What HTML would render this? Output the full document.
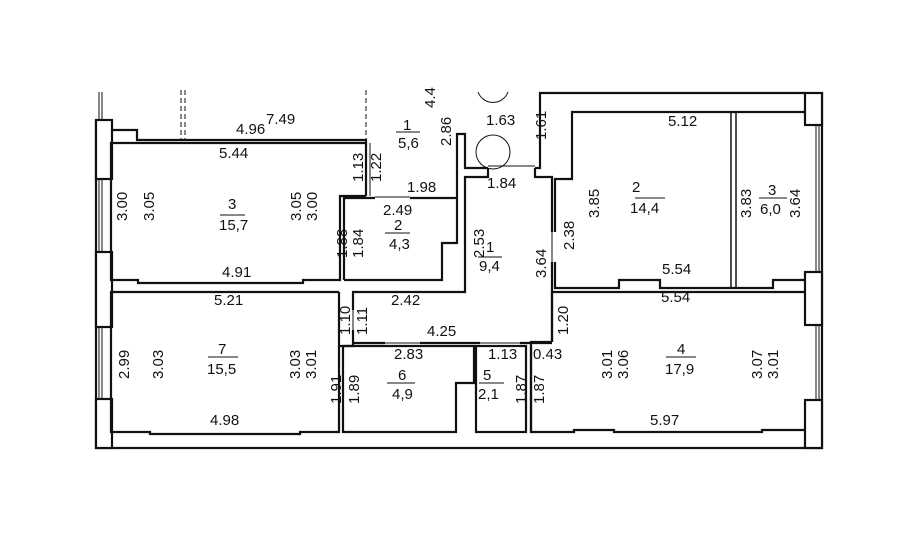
<!DOCTYPE html>
<html><head><meta charset="utf-8"><style>
html,body{margin:0;padding:0;background:#fff;width:918px;height:546px;overflow:hidden}
svg text{font-family:"Liberation Sans",sans-serif;font-size:15px;fill:#111}
</style></head><body>
<svg width="918" height="546" viewBox="0 0 918 546" xmlns="http://www.w3.org/2000/svg">
<g fill="none" stroke="#111" stroke-width="2.2">
<polyline points="96,120 96,448 822,448 822,92"/>
<line x1="99" y1="92" x2="99" y2="448" stroke-width="1"/>
<line x1="102" y1="92" x2="102" y2="448" stroke-width="1"/>
<line x1="816" y1="112" x2="816" y2="448" stroke-width="1"/>
<line x1="819" y1="112" x2="819" y2="448" stroke-width="1"/>
<rect x="96" y="120" width="16" height="59" fill="#fff"/>
<rect x="96" y="252" width="16" height="75" fill="#fff"/>
<rect x="96" y="399" width="16" height="49" fill="#fff"/>
<rect x="805" y="93" width="17" height="32" fill="#fff"/>
<rect x="805" y="272" width="17" height="53" fill="#fff"/>
<rect x="805" y="400" width="17" height="48" fill="#fff"/>
<polyline points="112,130 137,130 137,140 366,140 366,143"/>
<polyline points="366,143 111,143 111,280 138,280 138,283 303,283 303,280 340,280 340,196 366,196"/>
<line x1="366" y1="143" x2="366" y2="196"/>
<line x1="370" y1="143" x2="370" y2="196" stroke-width="1"/>
<polyline points="344,280 344,198 375,198"/>
<polyline points="410,198 457,198 457,243 442,243 442,280 344,280"/>
<line x1="375" y1="197" x2="410" y2="197" stroke-width="1"/>
<polyline points="457,198 457,134 465,134 465,168 488,168"/>
<polyline points="535,168 540,168 540,93 805,93"/>
<line x1="488" y1="166" x2="535" y2="166" stroke-width="1"/>
<polyline points="535,168 535,177 552,177 552,232"/>
<polyline points="488,168 488,177 465,177 465,292 353,292 353,310"/>
<polyline points="552,262 552,342"/>
<line x1="552" y1="232" x2="552" y2="262" stroke-width="1"/>
<polyline points="555,232 555,179 572,179 572,112 805,112"/>
<polyline points="555,262 555,288 619,288 619,280 660,280 660,288 773,288 773,280 805,280"/>
<line x1="731" y1="112" x2="731" y2="288" stroke-width="1.5"/>
<line x1="736" y1="112" x2="736" y2="288" stroke-width="1.5"/>
<polyline points="339,292 111,292 111,432 150,432 150,434 300,434 300,432 339,432 339,346"/>
<polyline points="339,292 339,346 353,346 353,330"/>
<line x1="353" y1="310" x2="353" y2="330" stroke-width="1"/>
<polyline points="353,343 385,343"/>
<polyline points="420,343 480,343"/>
<polyline points="520,343 552,343"/>
<line x1="385" y1="343" x2="420" y2="343" stroke-width="1"/>
<line x1="480" y1="343" x2="520" y2="343" stroke-width="1"/>
<polyline points="343,346 474,346 474,383 456,383 456,432 343,432 343,346"/>
<rect x="476" y="346" width="50" height="86"/>
<polyline points="552,342 552,292 805,292"/>
<polyline points="552,342 531,342 531,432 574,432 574,430 614,430 614,432 762,432 762,430 805,430"/>
<line x1="531" y1="346" x2="531" y2="432"/>
<line x1="366" y1="90" x2="366" y2="140" stroke-width="1" stroke-dasharray="5,3"/>
<line x1="181" y1="90" x2="181" y2="140" stroke-width="1" stroke-dasharray="5,3"/>
<line x1="185" y1="90" x2="185" y2="140" stroke-width="1" stroke-dasharray="5,3"/>
<circle cx="493" cy="152" r="17" stroke-width="1"/>
<path d="M478,92 A16,16 0 0 0 508,92" stroke-width="1"/>
<g stroke-width="1">
<line x1="220" y1="215" x2="245" y2="215"/>
<line x1="385" y1="233" x2="410" y2="233"/>
<line x1="396" y1="132" x2="420" y2="132"/>
<line x1="478" y1="257" x2="502" y2="257"/>
<line x1="635" y1="198" x2="665" y2="198"/>
<line x1="759" y1="198" x2="787" y2="198"/>
<line x1="208" y1="357" x2="238" y2="357"/>
<line x1="387" y1="383" x2="415" y2="383"/>
<line x1="479" y1="383" x2="504" y2="383"/>
<line x1="666" y1="357" x2="696" y2="357"/>
</g>
</g>
<g>
<text x="236" y="134">4.96</text><text x="266" y="124">7.49</text>
<text x="219" y="158">5.44</text>
<text x="228" y="209">3</text>
<text x="219" y="230">15,7</text>
<text x="222" y="277">4.91</text>
<text x="403" y="130">1</text><text x="398" y="148">5,6</text>
<text x="407" y="192">1.98</text>
<text x="383" y="215">2.49</text>
<text x="394" y="230">2</text><text x="389" y="249">4,3</text>
<text x="486" y="125">1.63</text>
<text x="487" y="188">1.84</text>
<text x="486" y="252">1</text><text x="479" y="271">9,4</text>
<text x="632" y="192">2</text><text x="630" y="213">14,4</text>
<text x="668" y="126">5.12</text>
<text x="662" y="274">5.54</text>
<text x="661" y="302">5.54</text>
<text x="768" y="195">3</text><text x="760" y="214">6,0</text>
<text x="214" y="305">5.21</text>
<text x="391" y="305">2.42</text>
<text x="427" y="336">4.25</text>
<text x="394" y="359">2.83</text>
<text x="488" y="359">1.13</text>
<text x="533" y="359">0.43</text>
<text x="218" y="354">7</text><text x="207" y="374">15,5</text>
<text x="398" y="380">6</text><text x="392" y="399">4,9</text>
<text x="483" y="380">5</text><text x="478" y="399">2,1</text>
<text x="677" y="354">4</text><text x="665" y="374">17,9</text>
<text x="210" y="425">4.98</text>
<text x="650" y="425">5.97</text>
</g>
<g>
<text transform="translate(127,221) rotate(-90)">3.00</text>
<text transform="translate(154,221) rotate(-90)">3.05</text>
<text transform="translate(301,221) rotate(-90)">3.05</text>
<text transform="translate(317,221) rotate(-90)">3.00</text>
<text transform="translate(363,182) rotate(-90)">1.13</text>
<text transform="translate(381,182) rotate(-90)">1.22</text>
<text transform="translate(347,258) rotate(-90)">1.88</text>
<text transform="translate(363,258) rotate(-90)">1.84</text>
<text transform="translate(435,108) rotate(-90)">4.4</text>
<text transform="translate(451,146) rotate(-90)">2.86</text>
<text transform="translate(484,258) rotate(-90)">2.53</text>
<text transform="translate(546,140) rotate(-90)">1.61</text>
<text transform="translate(546,278) rotate(-90)">3.64</text>
<text transform="translate(574,250) rotate(-90)">2.38</text>
<text transform="translate(599,218) rotate(-90)">3.85</text>
<text transform="translate(751,218) rotate(-90)">3.83</text>
<text transform="translate(800,218) rotate(-90)">3.64</text>
<text transform="translate(350,335) rotate(-90)">1.10</text>
<text transform="translate(367,335) rotate(-90)">1.11</text>
<text transform="translate(568,335) rotate(-90)">1.20</text>
<text transform="translate(129,379) rotate(-90)">2.99</text>
<text transform="translate(163,379) rotate(-90)">3.03</text>
<text transform="translate(300,379) rotate(-90)">3.03</text>
<text transform="translate(316,379) rotate(-90)">3.01</text>
<text transform="translate(341,404) rotate(-90)">1.91</text>
<text transform="translate(359,404) rotate(-90)">1.89</text>
<text transform="translate(526,404) rotate(-90)">1.87</text>
<text transform="translate(544,404) rotate(-90)">1.87</text>
<text transform="translate(612,379) rotate(-90)">3.01</text>
<text transform="translate(628,379) rotate(-90)">3.06</text>
<text transform="translate(762,379) rotate(-90)">3.07</text>
<text transform="translate(778,379) rotate(-90)">3.01</text>
</g>
</svg>
</body></html>
